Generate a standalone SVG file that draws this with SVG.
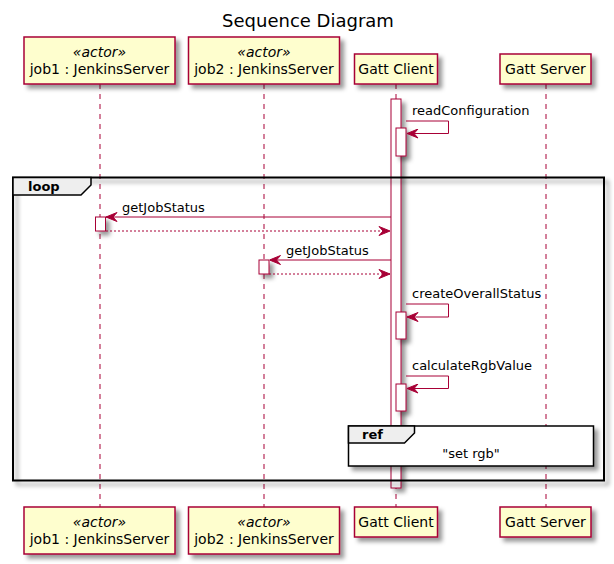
<svg xmlns="http://www.w3.org/2000/svg" width="614" height="564" viewBox="0 0 614 564">
<defs>
<filter id="sh" x="-1" y="-1" width="300%" height="300%">
<feGaussianBlur result="b1" stdDeviation="2"/>
<feColorMatrix in="b1" result="b2" type="matrix" values="0 0 0 0 0 0 0 0 0 0 0 0 0 0 0 0 0 0 .4 0"/>
<feOffset dx="4" dy="4" in="b2" result="b3"/>
<feBlend in="SourceGraphic" in2="b3" mode="normal"/>
</filter>
<marker id="ah" viewBox="0 0 12 10" refX="12" refY="5" markerWidth="12" markerHeight="10" markerUnits="userSpaceOnUse" orient="auto">
<polygon points="12,5 1,0.5 5,5 1,9.5" fill="#A80036" stroke="#A80036" stroke-width="1"/>
</marker>
</defs>
<style>
text{font-family:"DejaVu Sans","Liberation Sans",sans-serif;fill:#000}
.part{fill:#FEFECE;stroke:#A80036;stroke-width:1.5}
.pt{font-size:14px;text-anchor:middle}
.st{font-size:14px;font-style:italic;text-anchor:middle}
.life{stroke:#A80036;stroke-width:1;stroke-dasharray:5,5;fill:none}
.act{fill:#FFFFFF;stroke:#A80036;stroke-width:1}
.msg{stroke:#A80036;stroke-width:1;fill:none}
.ret{stroke:#A80036;stroke-width:1;fill:none;stroke-dasharray:2,2}
.ml{font-size:13px}
.frame{fill:none;stroke:#000;stroke-width:2}
.tab{fill:#EEEEEE;stroke:#000;stroke-width:1.5}
.ft{font-size:13px;font-weight:bold}
</style>
<rect width="614" height="564" fill="#FFFFFF"/>
<text x="308" y="26.5" style="font-size:18px" text-anchor="middle">Sequence Diagram</text>

<g id="lifelines">
<line class="life" x1="100" y1="84" x2="100" y2="507"/>
<line class="life" x1="264" y1="84" x2="264" y2="507"/>
<line class="life" x1="396" y1="84" x2="396" y2="507"/>
<line class="life" x1="546" y1="84" x2="546" y2="507"/>
</g>

<g id="job1">
<rect class="part" x="24" y="37" width="151" height="47" filter="url(#sh)"/>
<text class="st" x="99.5" y="57">«actor»</text>
<text class="pt" x="99.5" y="74">job1 : JenkinsServer</text>
<rect class="part" x="24" y="507" width="151" height="47" filter="url(#sh)"/>
<text class="st" x="99.5" y="527">«actor»</text>
<text class="pt" x="99.5" y="544">job1 : JenkinsServer</text>
</g>
<g id="job2">
<rect class="part" x="188.5" y="37" width="151" height="47" filter="url(#sh)"/>
<text class="st" x="264" y="57">«actor»</text>
<text class="pt" x="264" y="74">job2 : JenkinsServer</text>
<rect class="part" x="188.5" y="507" width="151" height="47" filter="url(#sh)"/>
<text class="st" x="264" y="527">«actor»</text>
<text class="pt" x="264" y="544">job2 : JenkinsServer</text>
</g>
<g id="gattClient">
<rect class="part" x="354.5" y="54" width="83" height="30" filter="url(#sh)"/>
<text class="pt" x="396" y="74">Gatt Client</text>
<rect class="part" x="354.5" y="507" width="83" height="30" filter="url(#sh)"/>
<text class="pt" x="396" y="527">Gatt Client</text>
</g>
<g id="gattServer">
<rect class="part" x="500" y="54" width="91" height="30" filter="url(#sh)"/>
<text class="pt" x="545.5" y="74">Gatt Server</text>
<rect class="part" x="500" y="507" width="91" height="30" filter="url(#sh)"/>
<text class="pt" x="545.5" y="527">Gatt Server</text>
</g>

<g id="activations">
<rect class="act" x="391" y="99" width="10" height="389" filter="url(#sh)"/>
<rect class="act" x="396" y="128" width="10" height="28" filter="url(#sh)"/>
<rect class="act" x="95.5" y="217" width="10" height="14" filter="url(#sh)"/>
<rect class="act" x="259" y="260" width="10" height="14" filter="url(#sh)"/>
<rect class="act" x="396" y="312" width="10" height="27" filter="url(#sh)"/>
<rect class="act" x="396" y="384" width="10" height="27" filter="url(#sh)"/>
</g>

<g id="loop">
<rect class="frame" x="13" y="177.5" width="591" height="303" filter="url(#sh)"/>
<polygon class="tab" points="13,177.5 91,177.5 91,185 81,195 13,195"/>
<text class="ft" x="28" y="191">loop</text>
</g>

<g id="connectors">
<polyline class="msg" points="406,121 448.5,121 448.5,133.5 407,133.5" marker-end="url(#ah)"/>
<text class="ml" x="412" y="115">readConfiguration</text>
<line class="msg" x1="391" y1="217" x2="106" y2="217" marker-end="url(#ah)"/>
<text class="ml" x="122" y="212">getJobStatus</text>
<line class="ret" x1="106" y1="231" x2="390" y2="231" marker-end="url(#ah)"/>
<line class="msg" x1="391" y1="260" x2="269.5" y2="260" marker-end="url(#ah)"/>
<text class="ml" x="286" y="255">getJobStatus</text>
<line class="ret" x1="269" y1="274" x2="390" y2="274" marker-end="url(#ah)"/>
<polyline class="msg" points="406,304 448.5,304 448.5,317 407,317" marker-end="url(#ah)"/>
<text class="ml" x="412" y="298">createOverallStatus</text>
<polyline class="msg" points="406,376 448.5,376 448.5,388.5 407,388.5" marker-end="url(#ah)"/>
<text class="ml" x="412" y="370">calculateRgbValue</text>
</g>

<g id="ref">
<rect x="348.5" y="426" width="245" height="40" fill="#FFFFFF" stroke="#000" stroke-width="1.5" filter="url(#sh)"/>
<polygon class="tab" points="348.5,426 414.5,426 414.5,433 404.5,443 348.5,443"/>
<text class="ft" x="362" y="439">ref</text>
<text class="ml" x="471" y="458" text-anchor="middle">"set rgb"</text>
</g>
</svg>
